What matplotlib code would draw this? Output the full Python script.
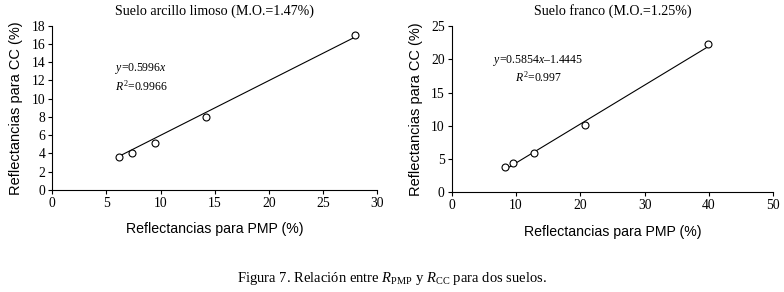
import numpy as np
import matplotlib
matplotlib.use("Agg")
import matplotlib.pyplot as plt

plt.rcParams["font.family"] = "Liberation Serif"
plt.rcParams["mathtext.fontset"] = "custom"
plt.rcParams["mathtext.rm"] = "Liberation Serif"
plt.rcParams["mathtext.it"] = "Liberation Serif:italic"

# Suelo arcillo limoso
pmp_arcillo = [6.2, 7.4, 9.45, 14.15, 27.95]
cc_arcillo = [3.6, 4.05, 5.2, 8.05, 17.0]
slope_arcillo = 0.5996

# Suelo franco
pmp_franco = [8.3, 9.5, 12.75, 20.8, 39.85]
cc_franco = [3.8, 4.4, 5.95, 10.1, 22.25]
slope_franco, icpt_franco = 0.5854, -1.4445

titles = ["Suelo arcillo limoso (M.O.=1.47%)", "Suelo franco (M.O.=1.25%)"]
xlims = [(0, 30), (0, 50)]
ylims = [(0, 18), (0, 25)]
xticks = [np.arange(0, 31, 5), np.arange(0, 51, 10)]
yticks = [np.arange(0, 19, 2), np.arange(0, 26, 5)]

fig = plt.figure(figsize=(7.84, 2.92), dpi=100)
ax1 = fig.add_axes([0.0667, 0.3493, 0.4146, 0.5627])
ax2 = fig.add_axes([0.5761, 0.3414, 0.4102, 0.5695])

def style_axis(ax, i):
    ax.set_xlim(*xlims[i])
    ax.set_ylim(*ylims[i])
    ax.set_xticks(xticks[i])
    ax.set_yticks(yticks[i])
    for s in ["top", "right"]:
        ax.spines[s].set_visible(False)
    for s in ["left", "bottom"]:
        ax.spines[s].set_linewidth(0.8)
    ax.tick_params(direction="out", length=3, width=0.8, labelsize=9.8, pad=2)
    ax.set_title(titles[i], fontsize=10.1, pad=8)
    ax.set_xlabel("Reflectancias para PMP (%)", family="Liberation Sans", fontsize=10.2, labelpad=9)
    ax.set_ylabel("Reflectancias para CC (%)", family="Liberation Sans", fontsize=10.5, labelpad=6)

# left panel
x = np.array(pmp_arcillo)
xl = np.array([x.min(), x.max()])
ax1.plot(xl, slope_arcillo * xl, color="black", lw=0.8)
ax1.plot(x, cc_arcillo, "o", mfc="white", mec="black", ms=5, mew=0.8)
style_axis(ax1, 0)
ax1.text(0.193, 0.742, r"$y$=0.5996$x$", transform=ax1.transAxes, fontsize=8.5, va="center")
ax1.text(0.193, 0.633, r"$R^2$=0.9966", transform=ax1.transAxes, fontsize=8.5, va="center")

# right panel
x = np.array(pmp_franco)
xl = np.array([x.min(), x.max()])
ax2.plot(xl, slope_franco * xl + icpt_franco, color="black", lw=0.8)
ax2.plot(x, cc_franco, "o", mfc="white", mec="black", ms=5, mew=0.8)
style_axis(ax2, 1)
ax2.text(0.13, 0.79, "$y$=0.5854$x$\u20131.4445", transform=ax2.transAxes, fontsize=8.5, va="center")
ax2.text(0.197, 0.693, r"$R^2$=0.997", transform=ax2.transAxes, fontsize=8.5, va="center")

fig.text(0.5, 0.045, r"Figura 7. Relación entre $R_{\mathrm{PMP}}$ y $R_{\mathrm{CC}}$ para dos suelos.",
         ha="center", va="center", fontsize=10.5)

fig.savefig("out.png", dpi=100)
